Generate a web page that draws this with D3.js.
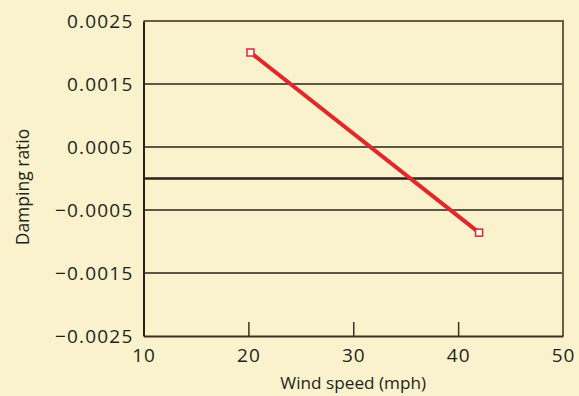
<!DOCTYPE html>
<html><head><meta charset="utf-8">
<script src="https://cdn.jsdelivr.net/npm/d3@7"></script>
<style>
body{margin:0;background:#faf2cc;}
svg{display:block;}
</style></head><body>
<svg id="c" width="579" height="396"></svg>
<script>
const windSpeed = [20.2, 42.0];
const damping = [0.0020, -0.00086];
const yTicks = [-0.0025, -0.0015, -0.0005, 0.0005, 0.0015, 0.0025];
const yTickLabels = ["\u22120.0025", "\u22120.0015", "\u22120.0005", "0.0005", "0.0015", "0.0025"];
const xTicks = [10, 20, 30, 40, 50];
const xTickLabels = ["10", "20", "30", "40", "50"];

const FONT = "'Open Sans', Lato, sans-serif";
const svg = d3.select("#c");
const W = 579, H = 396;
svg.append("rect").attr("width", W).attr("height", H).attr("fill", "#faf2cc");
const m = {l:143.5, r:563, t:21, b:336};
const x = d3.scaleLinear().domain([10, 50]).range([m.l, m.r]);
const y = d3.scaleLinear().domain([-0.0025, 0.0025]).range([m.b, m.t]);

// gridlines
svg.append("g").selectAll("line").data(yTicks.slice(1, -1)).enter().append("line")
  .attr("x1", m.l).attr("x2", m.r).attr("y1", d => y(d)).attr("y2", d => y(d))
  .attr("stroke", "#2a2318").attr("stroke-width", 1.5);
// top and right border
svg.append("path").attr("d", `M${m.l},${y(0.0025)}H${m.r}V${m.b}`)
  .attr("fill", "none").attr("stroke", "#6b5d45").attr("stroke-width", 2);
// zero line
svg.append("line").attr("x1", m.l).attr("x2", m.r).attr("y1", y(0)).attr("y2", y(0))
  .attr("stroke", "#2a2318").attr("stroke-width", 2.5);

// x axis with inward ticks
const xAxis = d3.axisBottom(x).tickValues(xTicks).tickFormat((d, i) => xTickLabels[i])
  .tickSizeInner(-14).tickSizeOuter(0);
const xa = svg.append("g").attr("transform", `translate(0,${m.b})`).call(xAxis);
xa.attr("font-size", null).attr("font-family", null);
xa.select(".domain").attr("stroke", "#3a3122").attr("stroke-width", 2);
xa.selectAll(".tick line").attr("stroke", "#3a3122").attr("stroke-width", 1.5)
  .attr("opacity", d => (d === 10 || d === 50) ? 0 : 1);
xa.selectAll(".tick text").attr("font-size", 19).attr("fill", "#231f1a")
  .attr("font-family", FONT).attr("letter-spacing", 1)
  .attr("y", 12).attr("dy", "0.72em");

// y axis
const yAxis = d3.axisLeft(y).tickValues(yTicks).tickFormat((d, i) => yTickLabels[i])
  .tickSize(0).tickPadding(10);
const ya = svg.append("g").attr("transform", `translate(${m.l},0)`).call(yAxis);
ya.attr("font-size", null).attr("font-family", null);
ya.select(".domain").attr("stroke", "#2a2318").attr("stroke-width", 2);
ya.selectAll(".tick text").attr("font-size", 19).attr("fill", "#231f1a")
  .attr("font-family", FONT).attr("letter-spacing", 1.2);

// line
const pts = windSpeed.map((v, i) => [v, damping[i]]);
svg.append("path").datum(pts)
  .attr("d", d3.line().x(d => x(d[0])).y(d => y(d[1])))
  .attr("fill", "none").attr("stroke", "#e3262b").attr("stroke-width", 4);
svg.selectAll("rect.pt").data(pts).enter().append("rect").attr("class", "pt")
  .attr("x", d => x(d[0]) - 3.5).attr("y", d => y(d[1]) - 3.5)
  .attr("width", 7).attr("height", 7)
  .attr("fill", "#ffffff").attr("stroke", "#e3262b").attr("stroke-width", 1.5);

// axis titles
svg.append("text").attr("x", (m.l + m.r) / 2).attr("y", 389).attr("text-anchor", "middle")
  .attr("font-family", FONT).attr("font-size", 17.2).attr("fill", "#231f1a").text("Wind speed (mph)");
svg.append("text").attr("transform", `translate(29,187) rotate(-90)`).attr("text-anchor", "middle")
  .attr("font-family", FONT).attr("font-size", 17.5).attr("fill", "#231f1a").text("Damping ratio");
</script>
</body></html>
